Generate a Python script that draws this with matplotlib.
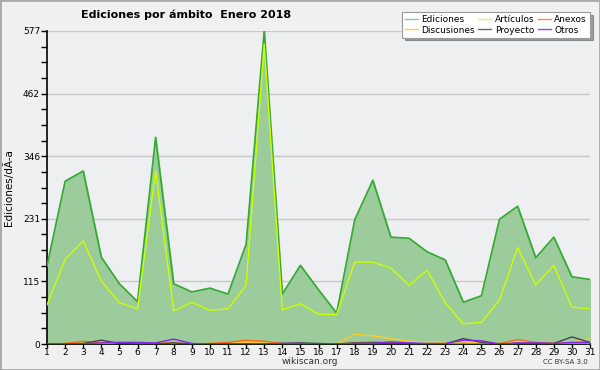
import matplotlib
matplotlib.use("Agg")
import matplotlib.pyplot as plt
from matplotlib.patches import Rectangle
import numpy as np

days = list(range(1, 32))
ediciones = [144, 300, 319, 160, 111, 78, 381, 111, 96, 103, 92, 184, 577, 92, 145,
             100, 57, 229, 302, 197, 195, 170, 155, 77, 89, 230, 254, 159, 197, 124, 119]
articulos = [72, 156, 190, 116, 76, 65, 319, 61, 77, 62, 65, 108, 553, 63, 74,
             55, 54, 151, 151, 140, 108, 136, 76, 37, 40, 81, 178, 109, 145, 68, 65]
anexos = [0, 1, 5, 2, 1, 0, 1, 2, 0, 1, 3, 7, 5, 1, 1,
          0, 0, 2, 4, 2, 1, 0, 0, 1, 0, 1, 8, 3, 1, 1, 1]
discusiones = [0, 1, 2, 1, 1, 1, 2, 1, 0, 1, 2, 3, 2, 0, 0,
               0, 0, 18, 15, 10, 5, 4, 3, 4, 2, 0, 5, 3, 2, 3, 10]
proyecto = [0, 0, 1, 7, 1, 0, 0, 2, 0, 0, 0, 0, 0, 1, 2,
            1, 0, 2, 2, 1, 1, 0, 0, 10, 3, 0, 1, 1, 1, 13, 3]
otros = [0, 0, 0, 2, 3, 3, 2, 9, 1, 0, 0, 0, 0, 1, 1,
         0, 0, 1, 1, 4, 2, 1, 1, 7, 6, 0, 2, 2, 1, 3, 3]

ymax = 577
ytick_labels = ["0", "115", "231", "346", "462", "577"]

fig = plt.figure(figsize=(6, 3.7), dpi=100)
fig.patch.set_facecolor("#f0f0f0")
fig.patches.append(Rectangle((0, 0), 1, 1, transform=fig.transFigure, fill=False,
                             edgecolor="#aaaaaa", linewidth=2, zorder=10))

ax = fig.add_axes([47/600, 1-344/370, (590-47)/600, (344-31)/370])
ax.set_facecolor("#eeeff1")

ax.fill_between(days, ediciones, 0, color="#9ccb9c", zorder=1)
ax.plot(days, ediciones, color="#33aa33", lw=1.2, zorder=3)
ax.plot(days, articulos, color="#ccff00", lw=1.0, zorder=4)
ax.plot(days, discusiones, color="#ffcc22", lw=1.0, zorder=5)
ax.plot(days, anexos, color="#ff6622", lw=1.0, zorder=5)
ax.plot(days, proyecto, color="#444444", lw=1.0, zorder=5)
ax.plot(days, otros, color="#8822ee", lw=1.0, zorder=5)

ax.set_xlim(1, 31)
ax.set_ylim(0, ymax)
major = np.linspace(0, ymax, 6)
ax.set_yticks(major)
ax.set_yticklabels(ytick_labels)
ax.set_yticks(np.linspace(0, ymax, 21), minor=True)
ax.set_xticks(days)
ax.set_xticklabels([str(d) for d in days])
ax.tick_params(axis="y", labelsize=6.5, length=4, width=1, colors="black", pad=1)
ax.tick_params(axis="x", labelsize=6.5, length=3, width=1, colors="black", pad=0)
ax.tick_params(axis="y", which="minor", length=4, width=1)
ax.grid(axis="y", which="major", color="#c8c8c8", lw=1, zorder=0)
ax.set_axisbelow(True)
for s in ["top", "right"]:
    ax.spines[s].set_visible(False)
ax.spines["left"].set_linewidth(1.2)
ax.spines["bottom"].set_linewidth(1.2)
ax.set_ylabel("Ediciones/dÃ-a", fontsize=7.5, labelpad=6)

fig.text(186/600, 1-15/370, "Ediciones por ámbito  Enero 2018", ha="center", va="center",
         fontsize=8, fontweight="bold")
fig.text(310/600, 1-362/370, "wikiscan.org", ha="center", va="center", fontsize=6.5, color="#333333")
fig.text(588/600, 1-362/370, "CC BY-SA 3.0", ha="right", va="center", fontsize=5, color="#333333")

labels = ["Ediciones", "Discusiones", "Artículos", "Proyecto", "Anexos", "Otros"]
colors = ["#88cc88", "#ffcc44", "#ccff66", "#666666", "#ff8844", "#9944ee"]
handles = [plt.Line2D([], [], color=c, lw=1) for c in colors]
leg = fig.legend(handles, labels, ncol=3, loc="upper right",
                 bbox_to_anchor=(590/600, 1-12/370), borderaxespad=0, fontsize=6.5, frameon=True,
                 fancybox=False, shadow=True, handlelength=1.4, handletextpad=0.4,
                 columnspacing=0.4, labelspacing=0.15, borderpad=0.35)
leg.get_frame().set_edgecolor("#999999")
leg.get_frame().set_linewidth(0.8)

fig.savefig("out.png", dpi=100, facecolor=fig.get_facecolor())
